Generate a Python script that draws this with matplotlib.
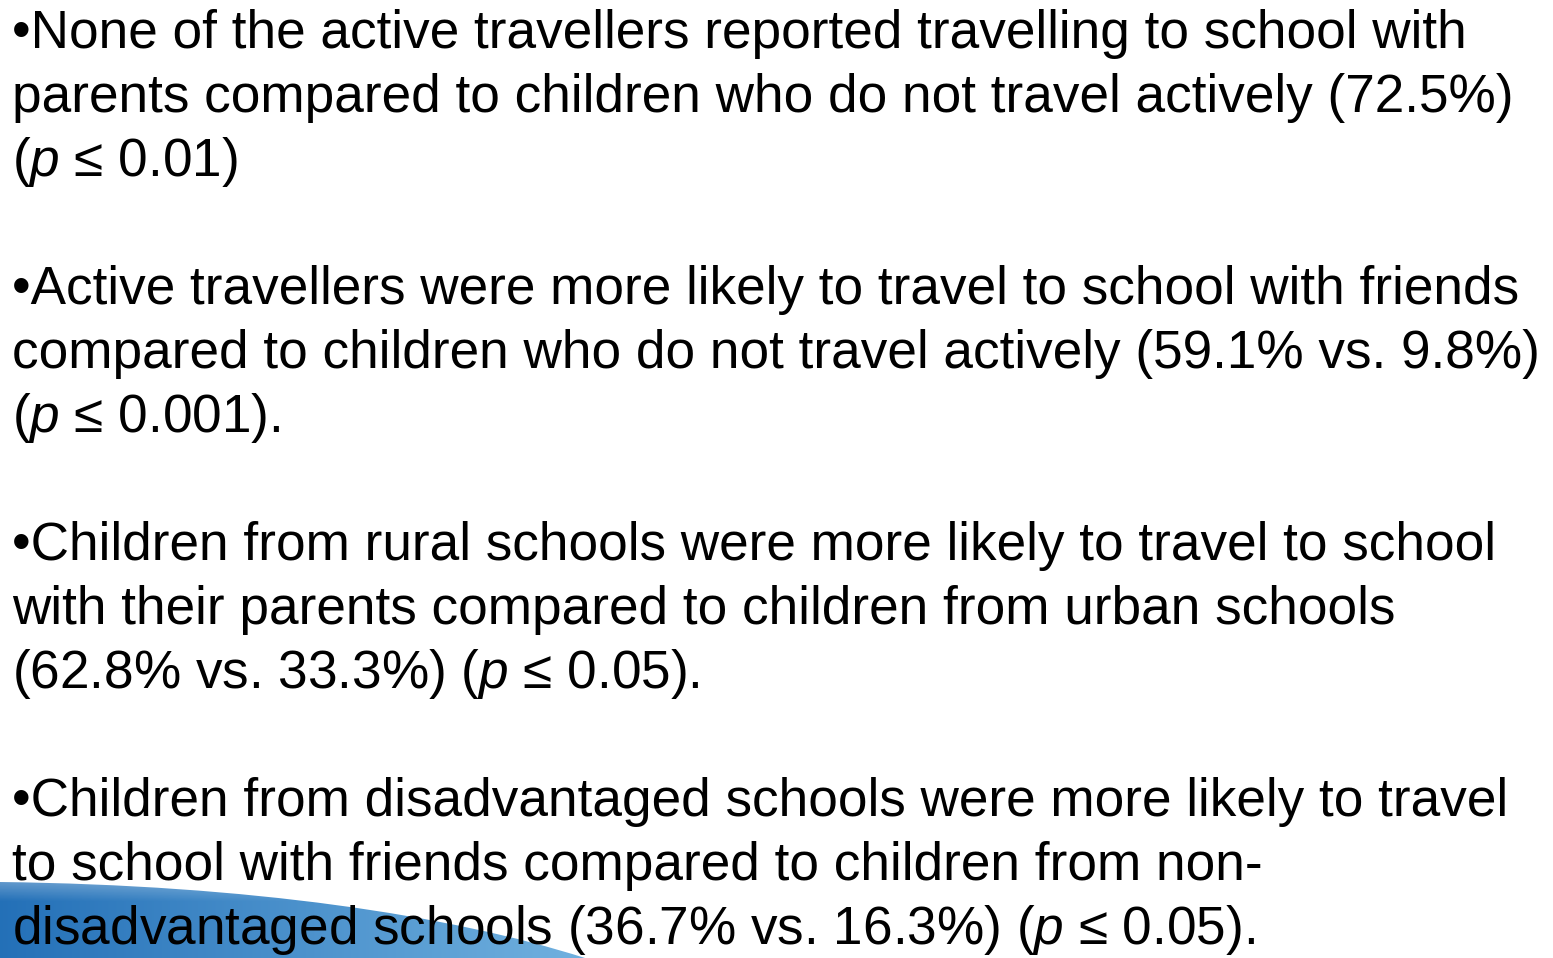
import numpy as np
import matplotlib
matplotlib.use("Agg")
import matplotlib.pyplot as plt
from matplotlib.path import Path
from matplotlib.patches import PathPatch

plt.rcParams["font.family"] = ["Liberation Sans", "DejaVu Sans"]
plt.rcParams["mathtext.fontset"] = "custom"
plt.rcParams["mathtext.rm"] = "Liberation Sans"
plt.rcParams["mathtext.it"] = "Liberation Sans:italic"

# ── slide text, one list per bullet ──────────────────────────────────────────
bullet_1 = ["\u2022None of the active travellers reported travelling to school with",
            "parents compared to children who do not travel actively (72.5%)",
            "($p$ \u2264 0.01)"]
bullet_2 = ["\u2022Active travellers were more likely to travel to school with friends",
            "compared to children who do not travel actively (59.1% vs. 9.8%)",
            "($p$ \u2264 0.001)."]
bullet_3 = ["\u2022Children from rural schools were more likely to travel to school",
            "with their parents compared to children from urban schools",
            "(62.8% vs. 33.3%) ($p$ \u2264 0.05)."]
bullet_4 = ["\u2022Children from disadvantaged schools were more likely to travel",
            "to school with friends compared to children from non-",
            "disadvantaged schools (36.7% vs. 16.3%) ($p$ \u2264 0.05)."]
bullets = [bullet_1, bullet_2, bullet_3, bullet_4]

W, H = 1553, 958
fig = plt.figure(figsize=(W / 100, H / 100), dpi=100)
ax = fig.add_axes([0, 0, 1, 1])
ax.set_xlim(0, W)
ax.set_ylim(H, 0)
ax.axis("off")

# ── blue swoosh in the bottom-left corner ────────────────────────────────────
verts = [(0, 882), (250, 885), (450, 915), (585, 958), (0, 958), (0, 882)]
codes = [Path.MOVETO, Path.CURVE4, Path.CURVE4, Path.CURVE4,
         Path.LINETO, Path.CLOSEPOLY]
patch = PathPatch(Path(verts, codes), facecolor="none", edgecolor="none")
ax.add_patch(patch)

xs = np.linspace(0, 1, 300)
ys = np.linspace(0, 1, 60)
gx, gy = np.meshgrid(xs, ys)
left = np.array([0.14, 0.44, 0.72])
right = np.array([0.45, 0.70, 0.88])
rgb = left[None, None, :] * (1 - gx[..., None]) + right[None, None, :] * gx[..., None]
# light highlight near the top edge
glow = np.clip(1 - gy / 0.35, 0, 1)[..., None] * 0.45
rgb = rgb * (1 - glow) + glow
img = ax.imshow(rgb, extent=[0, 600, 958, 870], origin="upper",
                aspect="auto", zorder=1)
img.set_clip_path(patch)

# ── text ─────────────────────────────────────────────────────────────────────
y = 48
for lines in bullets:
    for line in lines:
        ax.text(12, y, line, fontsize=38.25, color="black",
                ha="left", va="baseline", zorder=3)
        y += 64
    y += 64

fig.savefig("out.png", dpi=100)
